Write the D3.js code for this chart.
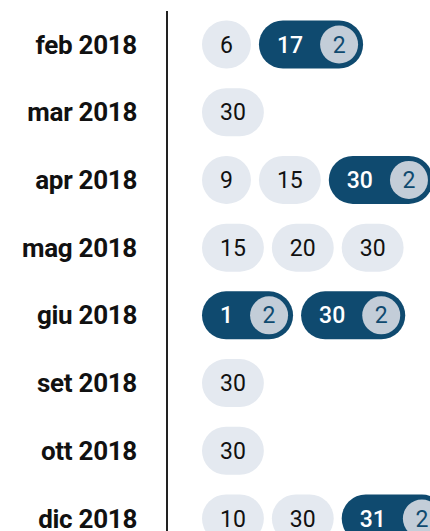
<!DOCTYPE html>
<html>
<head>
<meta charset="utf-8">
<script src="https://cdn.jsdelivr.net/npm/d3@7"></script>
<style>
  body { margin: 0; background: #fff; }
  svg { display: block; font-family: Roboto, sans-serif; }
</style>
</head>
<body>
<div id="chart"></div>
<script>
///////////////////////////////////////////////////////////////////////////
///////////////////////////////// Data ////////////////////////////////////
///////////////////////////////////////////////////////////////////////////
var months = ["feb 2018", "mar 2018", "apr 2018", "mag 2018", "giu 2018", "set 2018", "ott 2018", "dic 2018"]
var days = [[6, 17], [30], [9, 15, 30], [15, 20, 30], [1, 30], [30], [30], [10, 30, 31]]
var counts = [[1, 2], [1], [1, 1, 2], [1, 1, 1], [2, 2], [1], [1], [1, 1, 2]]

///////////////////////////////////////////////////////////////////////////
///////////////////////////////// Globals /////////////////////////////////
///////////////////////////////////////////////////////////////////////////
var totalWidth = 430
var totalHeight = 531
var axisX = 167
var labelX = 137
var pillStart = 202
var pillH = 48
var pillGap = 8
var pad = 18
var badgeR = 19
var fontSize = 23
var labelSize = 26

var light = "#e4e9f0"
var dark = "#0f4a6f"
var badge = "#c3cdd8"

var svg = d3.select("#chart").append("svg")
  .attr("width", totalWidth)
  .attr("height", totalHeight)

var yScale = d3.scalePoint()
  .domain(months)
  .range([44.5, 518.5])

// axis line
svg.append("line")
  .attr("x1", axisX).attr("x2", axisX)
  .attr("y1", 11).attr("y2", totalHeight)
  .attr("stroke", "#222")
  .attr("stroke-width", 2)

// month labels
svg.selectAll(".month")
  .data(months)
  .enter().append("text")
  .attr("class", "month")
  .attr("x", labelX)
  .attr("y", d => yScale(d))
  .attr("dy", "0.35em")
  .attr("text-anchor", "end")
  .style("font-size", labelSize + "px")
  .style("font-weight", 700)
  .style("letter-spacing", "-0.3px")
  .attr("fill", "#111")
  .text(d => d)

///////////////////////////////////////////////////////////////////////////
/////////////////////////////// Pills /////////////////////////////////////
///////////////////////////////////////////////////////////////////////////
months.forEach((m, i) => {
  var x = pillStart
  var cy = yScale(m)
  days[i].forEach((d, j) => {
    var n = counts[i][j]
    var g = svg.append("g").attr("transform", "translate(" + x + "," + (cy - pillH / 2) + ")")
    var rect = g.append("rect")
      .attr("height", pillH)
      .attr("rx", pillH / 2)
      .attr("fill", n > 1 ? dark : light)
    var t = g.append("text")
      .attr("x", pad)
      .attr("y", pillH / 2)
      .attr("dy", "0.35em")
      .style("font-size", fontSize + "px")
      .style("font-weight", n > 1 ? 500 : 400)
      .attr("fill", n > 1 ? "#fff" : "#111")
      .text(d)
    var tw = t.node().getComputedTextLength()
    var w = pad * 2 + tw
    if (n > 1) {
      var bx = pad + tw + 17 + badgeR
      g.append("circle")
        .attr("cx", bx)
        .attr("cy", pillH / 2)
        .attr("r", badgeR)
        .attr("fill", badge)
      g.append("text")
        .attr("x", bx)
        .attr("y", pillH / 2)
        .attr("dy", "0.35em")
        .attr("text-anchor", "middle")
        .style("font-size", fontSize + "px")
        .attr("fill", dark)
        .text(n)
      w = bx + badgeR + 5
    }
    rect.attr("width", w)
    x += w + pillGap
  })
})
</script>
</body>
</html>
